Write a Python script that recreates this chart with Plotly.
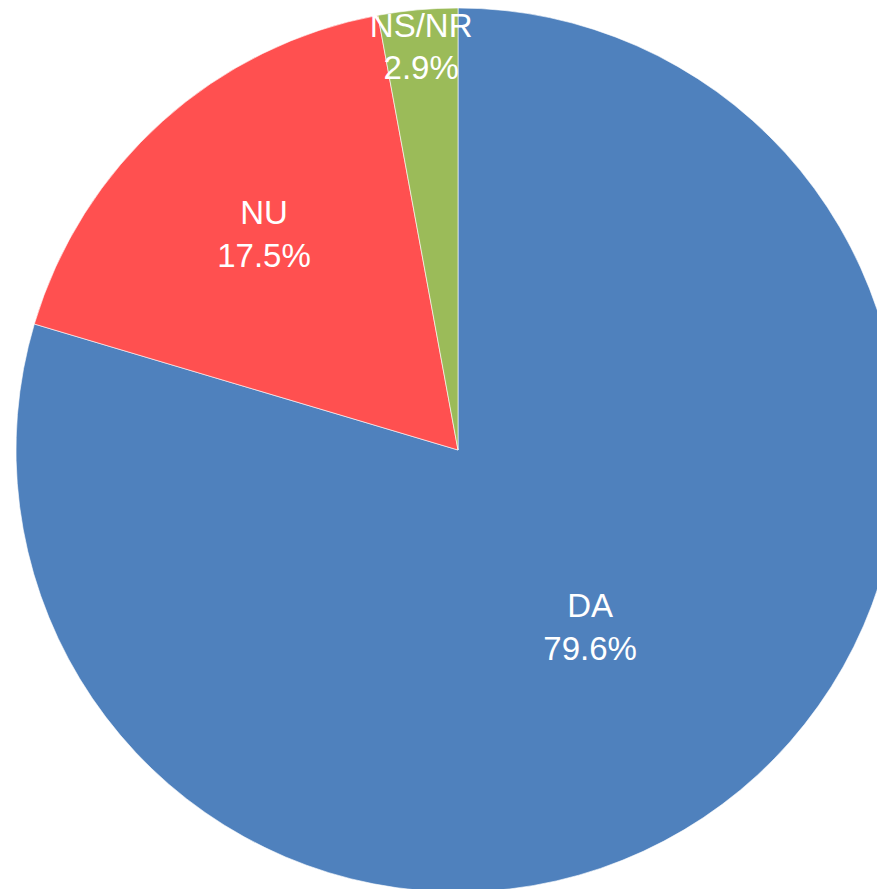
import plotly.graph_objects as go

labels = ["DA", "NU", "NS/NR"]
values = [79.6, 17.5, 2.9]
colors = ["#4f81bd", "#ff5050", "#9bbb59"]

W, H = 900, 892
fig = go.Figure(go.Pie(
    labels=labels, values=values, sort=False, direction="clockwise", rotation=0,
    marker=dict(colors=colors, line=dict(color="rgba(255,255,255,0.6)", width=1)),
    textinfo="label+percent", texttemplate="%{label}<br>%{percent:.1%}",
    textposition="inside", insidetextorientation="horizontal",
    textfont=dict(family="Liberation Sans, Arial, sans-serif", size=33, color="white"),
    showlegend=False, hoverinfo="label+percent",
    domain=dict(x=[8 / W, 892 / W], y=[8 / H, 1]),
))
fig.update_layout(width=W, height=H, margin=dict(l=0, r=0, t=0, b=0),
                  uniformtext=dict(minsize=33, mode="show"),
                  paper_bgcolor="white", plot_bgcolor="white")
fig.write_html("out.html")
